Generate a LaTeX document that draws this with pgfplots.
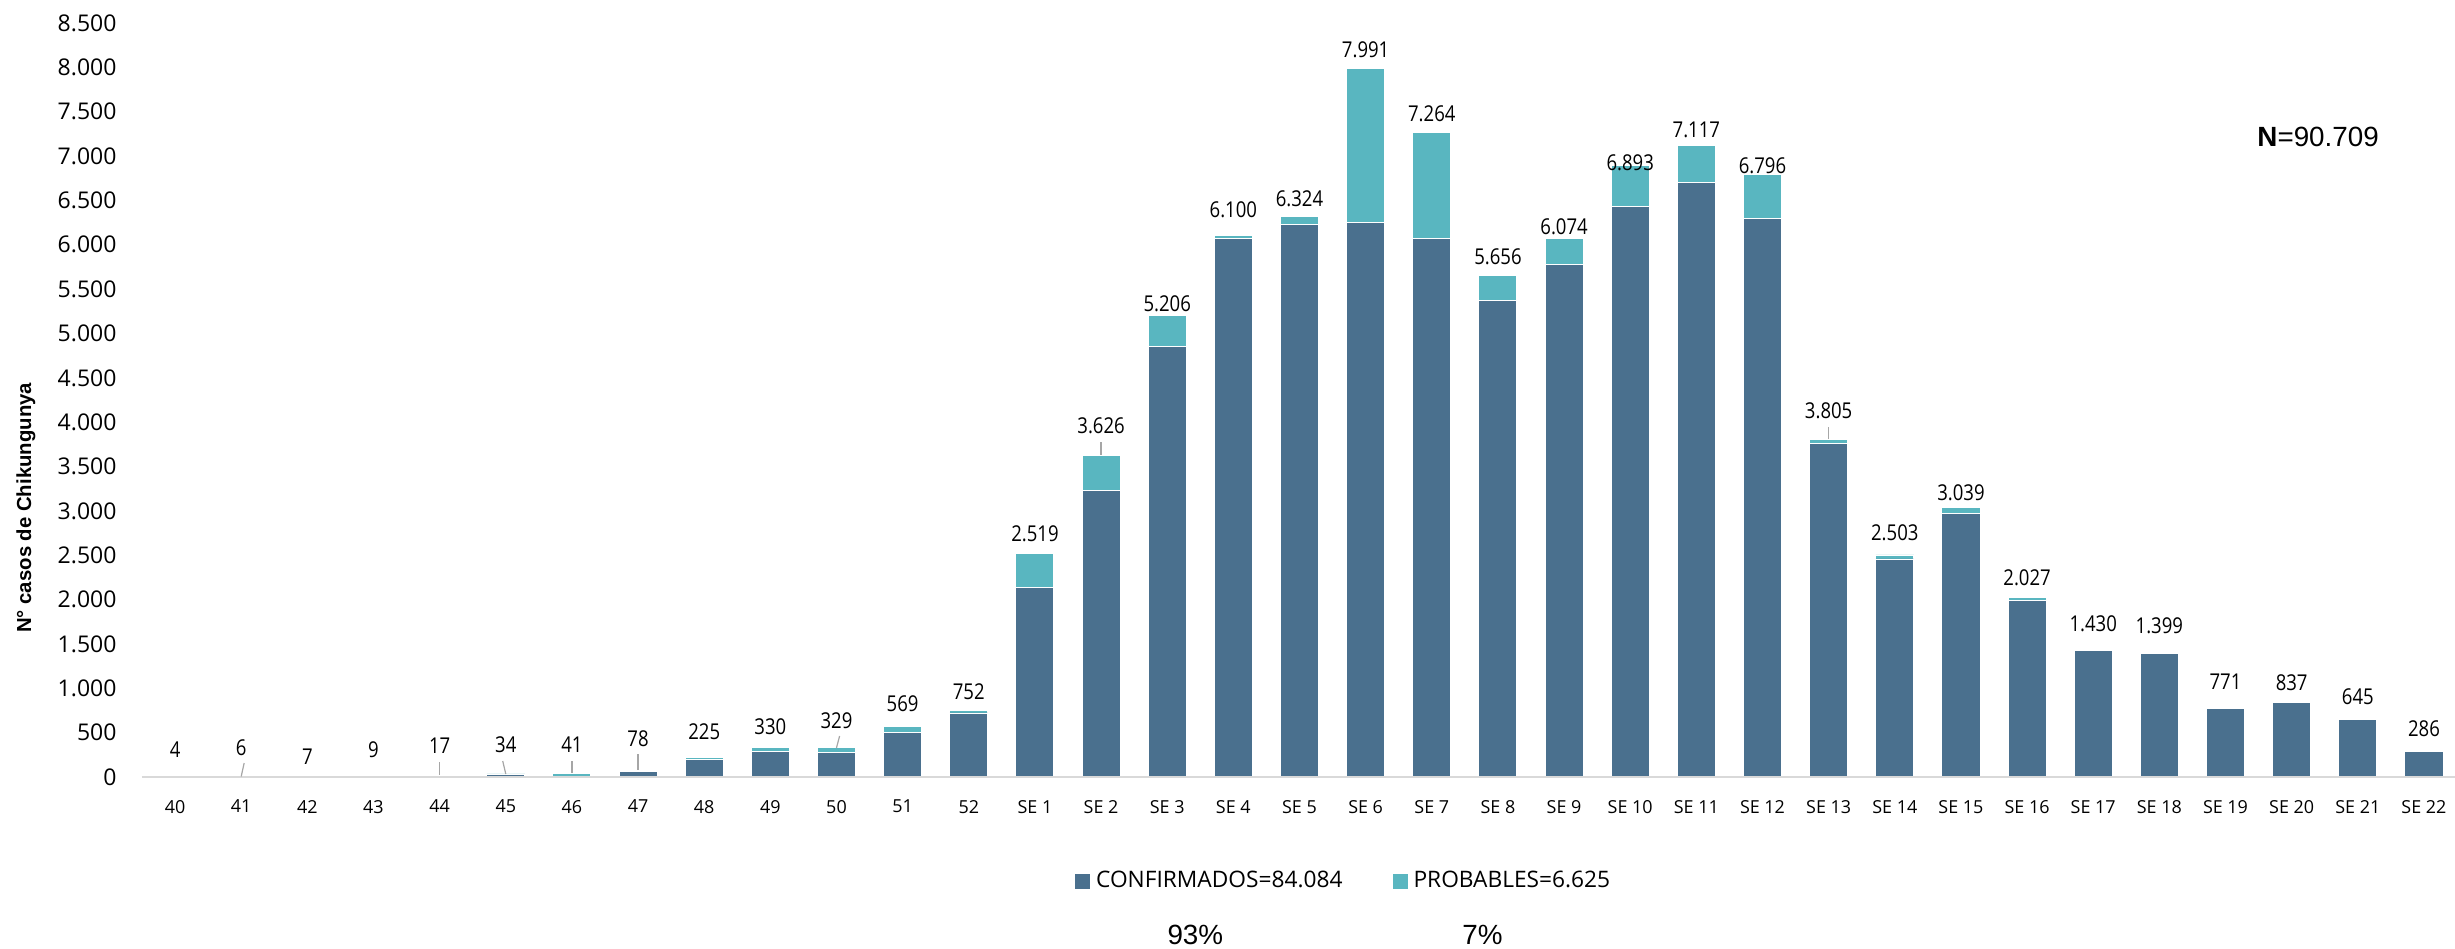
\documentclass[border=0pt]{standalone}
\usepackage{fontspec}
\setmainfont{Open Sans}
\newfontfamily\condfont{Open Sans}[FakeStretch=0.85]
\newfontfamily\arialfont{Liberation Sans}
\usepackage{pgfplots}
\pgfplotsset{compat=1.18}
\usepackage{pgfplotstable}
\definecolor{conf}{HTML}{4A708E}
\definecolor{prob}{HTML}{59B6C0}
\definecolor{leader}{HTML}{A6A6A6}
\definecolor{baseline}{HTML}{D9D9D9}

% x = week index, conf/prob = stacked parts, total = label, ly = label height
\pgfplotstableread{
x conf prob total ly
0 4 0 4 304
1 5 1 6 330
2 7 0 7 229
3 9 0 9 304
4 10 7 17 353
5 30 4 34 361
6 10 31 41 361
7 59 19 78 436
8 195 30 225 511
9 292 38 330 567
10 276 53 329 635
11 505 64 569 830
12 722 30 752 961
13 2134 385 2519 2739
14 3234 392 3626 3956
15 4856 350 5206 5331
16 6066 34 6100 6390
17 6224 100 6324 6514
18 6251 1740 7991 8201
19 6069 1195 7264 7480
20 5372 284 5656 5860
21 5778 296 6074 6202
22 6433 460 6893 6927
23 6698 419 7117 7292
24 6296 500 6796 6886
25 3760 45 3805 4125
26 2458 45 2503 2753
27 2972 67 3039 3204
28 1995 32 2027 2246
29 1428 2 1430 1724
30 1397 2 1399 1709
31 771 0 771 1074
32 837 0 837 1067
33 645 0 645 905
34 286 0 286 549
}\data

\begin{document}
\begin{tikzpicture}
\useasboundingbox (-47.33bp,-57.33bp) rectangle (771bp,259bp);
\begin{axis}[
  scale only axis, width=771.67bp, height=251.33bp,
  xmin=-0.5, xmax=34.5, ymin=0, ymax=8500,
  ybar stacked, bar width=12.67bp,
  axis on top,
  axis x line=bottom, axis y line=left,
  x axis line style={-, draw=baseline, line width=0.7bp},
  y axis line style={draw=none},
  tick style={draw=none}, major tick length=0pt,
  ytick={0,500,...,8500},
  xtick={0,...,34},
  xticklabels={40,41,42,43,44,45,46,47,48,49,50,51,52,SE 1,SE 2,SE 3,SE 4,SE 5,SE 6,SE 7,SE 8,SE 9,SE 10,SE 11,SE 12,SE 13,SE 14,SE 15,SE 16,SE 17,SE 18,SE 19,SE 20,SE 21,SE 22},
  /pgf/number format/1000 sep={.},
  /pgf/number format/assume math mode=true,
  yticklabel style={font=\fontsize{7.7}{8}\selectfont, inner sep=0pt, anchor=east, xshift=-8.3bp},
  xticklabel style={font=\fontsize{6}{7}\selectfont, inner sep=0pt, anchor=north, yshift=-7.5bp},
  ylabel={N° casos de Chikungunya},
  every axis y label/.style={at={(rel axis cs:-0.0501,0.357)}, rotate=90, anchor=center,
    font=\arialfont\bfseries\fontsize{6.8}{8}\selectfont},
  legend style={at={(rel axis cs:0.52,-0.139)}, anchor=center, draw=none,
    legend columns=2, font=\fontsize{7.6}{9}\selectfont,
    /tikz/every even column/.append style={column sep=14.8bp}},
  clip=false,
]
\addplot[fill=conf, draw=white, line width=0.3bp,
  legend image code/.code={\fill[conf] (0bp,-2.3bp) rectangle (4.6bp,2.3bp);}]
  table[x=x, y=conf]{\data};
\addlegendentry{CONFIRMADOS=84.084}
\addplot[fill=prob, draw=white, line width=0.3bp,
  legend image code/.code={\fill[prob] (0bp,-2.3bp) rectangle (4.6bp,2.3bp);}]
  table[x=x, y=prob]{\data};
\addlegendentry{PROBABLES=6.625}
\node[font=\arialfont\fontsize{9.3}{11}\selectfont] at (rel axis cs:0.94,0.849) {\textbf{N}=90.709};
\node[font=\arialfont\fontsize{9.3}{11}\selectfont] at (rel axis cs:0.455,-0.2097) {93\%};
\node[font=\arialfont\fontsize{9.3}{11}\selectfont] at (rel axis cs:0.579,-0.2097) {7\%};
\end{axis}

\begin{axis}[
  scale only axis, width=771.67bp, height=251.33bp,
  xmin=-0.5, xmax=34.5, ymin=0, ymax=8500,
  hide axis, clip=false,
  /pgf/number format/1000 sep={.},
  /pgf/number format/assume math mode=true,
]
\addplot[draw=none, mark=none, nodes near coords, point meta=explicit,
  nodes near coords align={anchor=center},
  every node near coord/.append style={font=\condfont\fontsize{7.3}{8}\selectfont,
    inner sep=0pt, anchor=center, text=black}]
  table[x=x, y=ly, meta=total]{\data};
\addplot[leader, line width=0.4bp] coordinates {(1.045,158) (1,6)};
\addplot[leader, line width=0.4bp] coordinates {(4,166) (4,17)};
\addplot[leader, line width=0.4bp] coordinates {(4.954,180) (5,34)};
\addplot[leader, line width=0.4bp] coordinates {(6,180) (6,41)};
\addplot[leader, line width=0.4bp] coordinates {(7,259) (7,78)};
\addplot[leader, line width=0.4bp] coordinates {(10.047,462) (10,329)};
\addplot[leader, line width=0.4bp] coordinates {(14,3772) (14,3626)};
\addplot[leader, line width=0.4bp] coordinates {(25,3941) (25,3805)};
\end{axis}
\end{tikzpicture}
\end{document}
